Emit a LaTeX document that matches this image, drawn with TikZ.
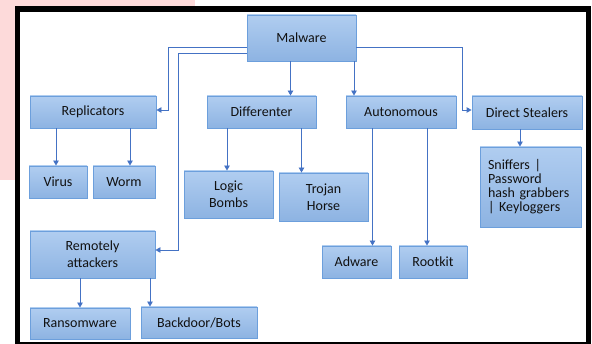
\documentclass[tikz,border=0pt]{standalone}
\usepackage{fontspec}
\setmainfont{Carlito}
\usetikzlibrary{arrows.meta}
\definecolor{boxtop}{HTML}{B0CDF0}
\definecolor{boxbot}{HTML}{8DB3E2}
\definecolor{boxline}{HTML}{6C9FDC}
\definecolor{conncol}{HTML}{4472C4}
\definecolor{pinkbg}{HTML}{FDDADA}
\definecolor{txt}{HTML}{111111}
\tikzset{
  box/.style={draw=boxline, line width=0.9pt, top color=boxtop, bottom color=boxbot,
    inner sep=0pt, text=txt, font=\fontsize{14}{17}\selectfont, align=center},
  conn/.style={draw=conncol, line width=0.9pt, -{Triangle[length=5pt,width=5.5pt]}},
}
\begin{document}
\begin{tikzpicture}[x=1pt,y=-1pt]
\useasboundingbox (0,0) rectangle (592,344);
% background
\fill[pinkbg] (0,0) rectangle (195,180);
\fill[black] (15,6) rectangle (591,350);
\fill[white] (20,12) rectangle (586,342);
% nodes
\node[box, minimum width=109pt, minimum height=46pt] (mal) at (301.5,38) {Malware};
\node[box, minimum width=126pt, minimum height=32pt] (rep) at (93,112) {Replicators};
\node[box, minimum width=109pt, minimum height=32pt] (diff) at (261.5,112) {Differenter};
\node[box, minimum width=110pt, minimum height=32pt] (auto) at (401,112) {Autonomous};
\node[box, minimum width=110pt, minimum height=33pt] (ds) at (527,112.5) {Direct Stealers};
\node[box, minimum width=101pt, minimum height=80pt, align=left, text width=85pt,
      font=\fontsize{14}{14}\selectfont] (sn) at (530.5,187)
      {Sniffers |\\Password\\hash grabbers\\| Keyloggers};
\node[box, minimum width=58pt, minimum height=32pt] (virus) at (58,182) {Virus};
\node[box, minimum width=62pt, minimum height=32pt] (worm) at (124,182) {Worm};
\node[box, minimum width=89pt, minimum height=47pt] (logic) at (228.5,194.5) {Logic\\Bombs};
\node[box, minimum width=89pt, minimum height=48pt] (troj) at (323.5,197) {Trojan\\Horse};
\node[box, minimum width=125pt, minimum height=47pt] (rem) at (92.5,254.5) {Remotely\\attackers};
\node[box, minimum width=100pt, minimum height=31pt] (ran) at (80,323.5) {Ransomware};
\node[box, minimum width=116pt, minimum height=31pt] (bd) at (199,322.5) {Backdoor/Bots};
\node[box, minimum width=69pt, minimum height=32pt] (adw) at (356.5,262) {Adware};
\node[box, minimum width=68pt, minimum height=32pt] (rk) at (433,262) {Rootkit};
% connectors
\draw[conn] ([yshift=-9.5pt]mal.west) -- ++(-78,0) |- ([yshift=2pt]rep.east);
\draw[conn] ([yshift=-15pt]mal.west) -- ++(-68,0) |- ([yshift=4.5pt]rem.east);
\draw[conn] ([xshift=-11pt]mal.south) -- ([xshift=-11pt]mal.south |- diff.north);
\draw[conn] ([xshift=52.5pt]mal.south) -- ([xshift=52.5pt]mal.south |- auto.north);
\draw[conn] ([yshift=-9.5pt]mal.east) -- ++(106,0) |- ([yshift=2.5pt]ds.west);
\draw[conn] ([xshift=-2pt]virus.north |- rep.south) -- ([xshift=-2pt]virus.north);
\draw[conn] ([xshift=6pt]worm.north |- rep.south) -- ([xshift=6pt]worm.north);
\draw[conn] ([xshift=-1.5pt]logic.north |- diff.south) -- ([xshift=-1.5pt]logic.north);
\draw[conn] ([xshift=-22pt]troj.north |- diff.south) -- ([xshift=-22pt]troj.north);
\draw[conn] ([xshift=16pt]adw.north |- auto.south) -- ([xshift=16pt]adw.north);
\draw[conn] ([xshift=-6pt]rk.north |- auto.south) -- ([xshift=-6pt]rk.north);
\draw[conn] ([xshift=-10.5pt]sn.north |- ds.south) -- ([xshift=-10.5pt]sn.north);
\draw[conn] (ran.north |- rem.south) -- (ran.north);
\draw[conn] ([xshift=-49pt]bd.north |- rem.south) -- ([xshift=-49pt]bd.north);
\end{tikzpicture}
\end{document}
